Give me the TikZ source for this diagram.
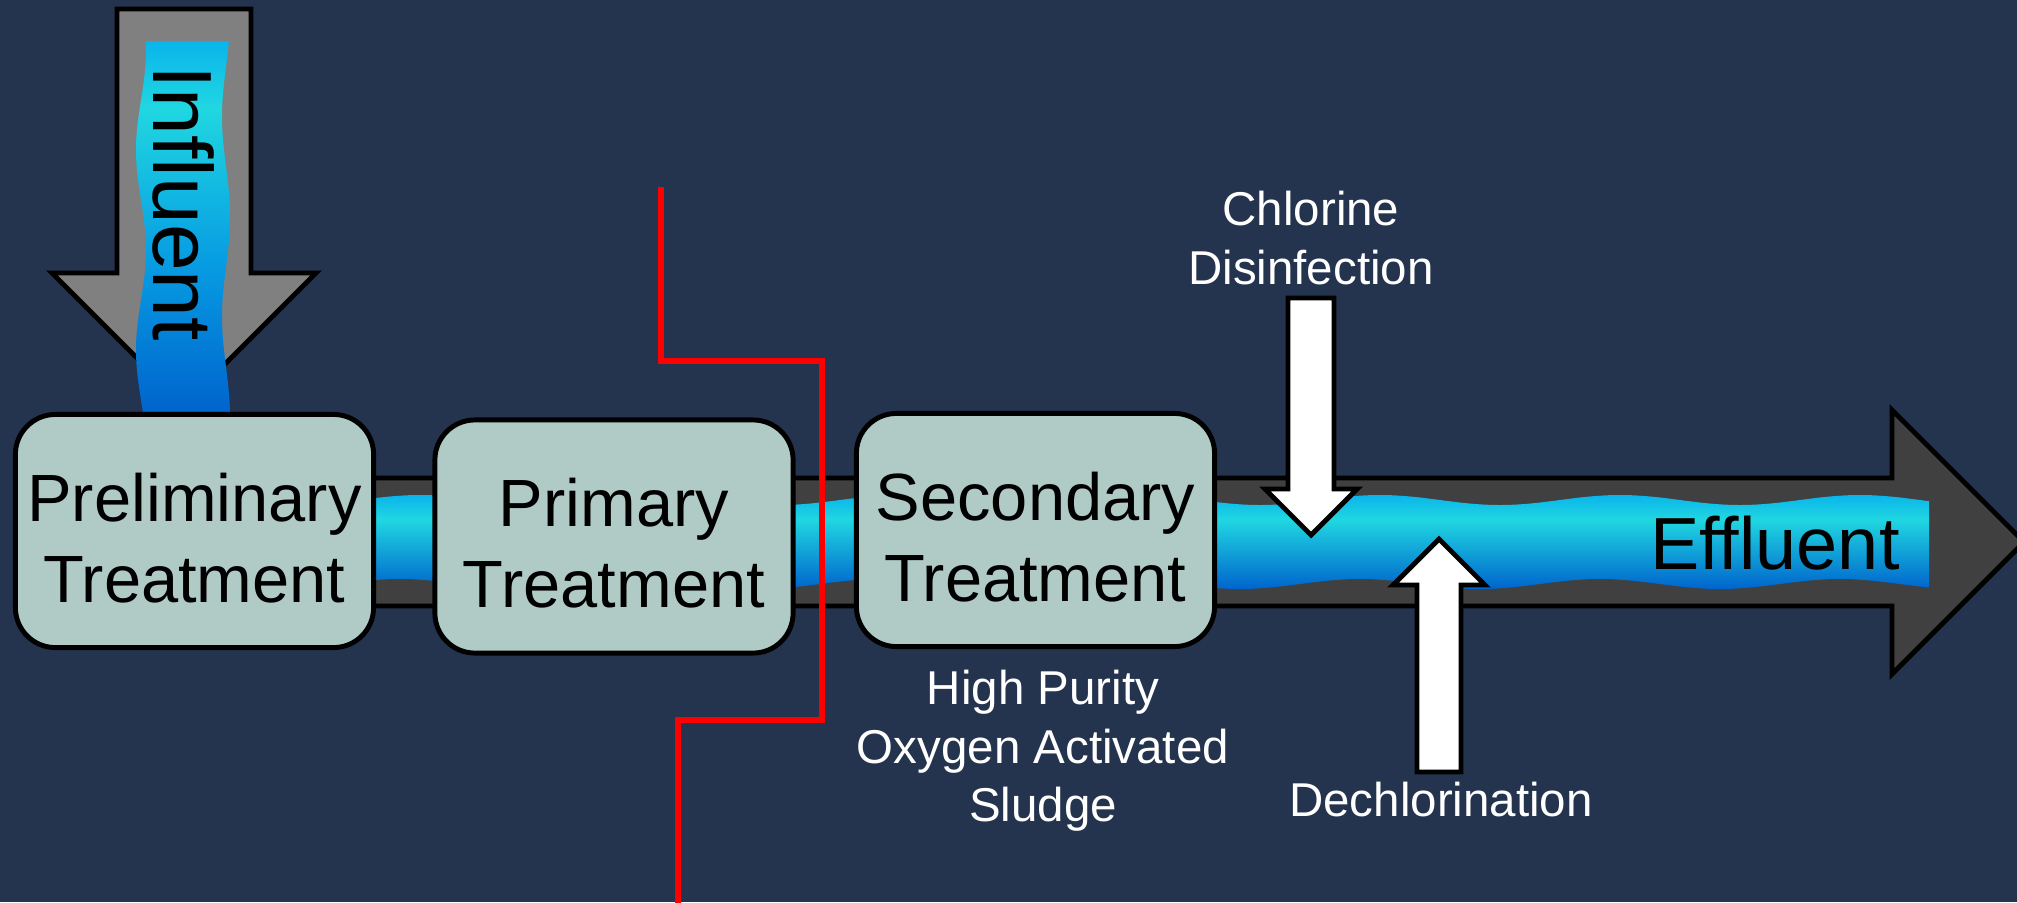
\documentclass[tikz,border=0pt]{standalone}
\usepackage{fontspec}
\setmainfont{Liberation Sans}
\definecolor{navy}{RGB}{36,51,78}
\definecolor{pipegray}{RGB}{64,64,64}
\definecolor{boxgreen}{RGB}{176,203,197}
\definecolor{watertop}{RGB}{10,180,235}
\definecolor{watermid}{RGB}{32,215,225}
\definecolor{waterbot}{RGB}{0,100,205}
\pgfdeclareverticalshading{waterflow}{100bp}{color(0bp)=(waterbot); color(25bp)=(waterbot); color(62bp)=(watermid); color(75bp)=(watertop); color(100bp)=(watertop)}
\pgfdeclareverticalshading{influx}{100bp}{color(0bp)=(waterbot); color(25bp)=(waterbot); color(45bp)=(watertop!70!waterbot); color(66bp)=(watermid); color(75bp)=(watertop); color(100bp)=(watertop)}
\begin{document}
\begin{tikzpicture}[x=0.01cm,y=-0.01cm,
    outline/.style={draw=black,line width=1.4pt,line join=miter},
    procbox/.style={outline,fill=boxgreen,rounded corners=0.4cm,minimum width=3.58cm,minimum height=2.33cm,align=center,font=\fontsize{19}{23}\selectfont,text height=40.5pt,text depth=0pt},
    note/.style={text=white,align=center,font=\fontsize{13.5}{16.6}\selectfont}]
    \fill[navy] (0,0) rectangle (2017,902);
    \useasboundingbox (0,0) rectangle (2017,902);
    \draw[outline,fill=pipegray] (200,478)--(1892,478)--(1892,410)--(2024,542)--(1892,674)--(1892,606)--(200,606)--cycle;
    \shade[shading=waterflow] plot[domain=370:1929,samples=240,smooth] (\x,{500+5*sin(1.5*\x)})--plot[domain=1929:370,samples=240,smooth] (\x,{584+5*sin(1.5*\x+30)})--cycle;
    \draw[outline,fill=gray] (117,9)--(251,9)--(251,273)--(316,273)--(184,405)--(52,273)--(117,273)--cycle;
    \shade[shading=influx] plot[domain=41:412,samples=60,smooth] ({141+5*sin(1.8*\x)},\x)--plot[domain=412:41,samples=60,smooth] ({226+4*sin(1.8*\x+60)},\x)--cycle;
    \node[rotate=-90,font=\fontsize{23.9}{28}\selectfont] (influent) at (184,203) {Influent};
    \node[procbox] (prelim) at (194.5,531) {Preliminary\\Treatment};
    \node[procbox] (primary) at (614,536.5) {Primary\\Treatment};
    \node[procbox] (secondary) at (1035.5,530) {Secondary\\Treatment};
    \draw[outline,fill=white] (1288,298)--(1334,298)--(1334,489)--(1357,489)--(1311,535)--(1265,489)--(1288,489)--cycle;
    \draw[outline,fill=white] (1417,772)--(1461,772)--(1461,585)--(1485,585)--(1439,539)--(1393,585)--(1417,585)--cycle;
    \node[font=\fontsize{21}{25}\selectfont] (effluent) at (1775,543) {Effluent};
    \node[note] (chlorine) at (1311,238) {Chlorine\\Disinfection};
    \node[note] (hpo) at (1043,751) {High Purity\\Oxygen Activated\\Sludge};
    \node[note] (dechlor) at (1441,800) {Dechlorination};
    \draw[red,line width=1.5pt] (661,187)--(661,361)--(822,361)--(822,720)--(678,720)--(678,905);
\end{tikzpicture}
\end{document}
